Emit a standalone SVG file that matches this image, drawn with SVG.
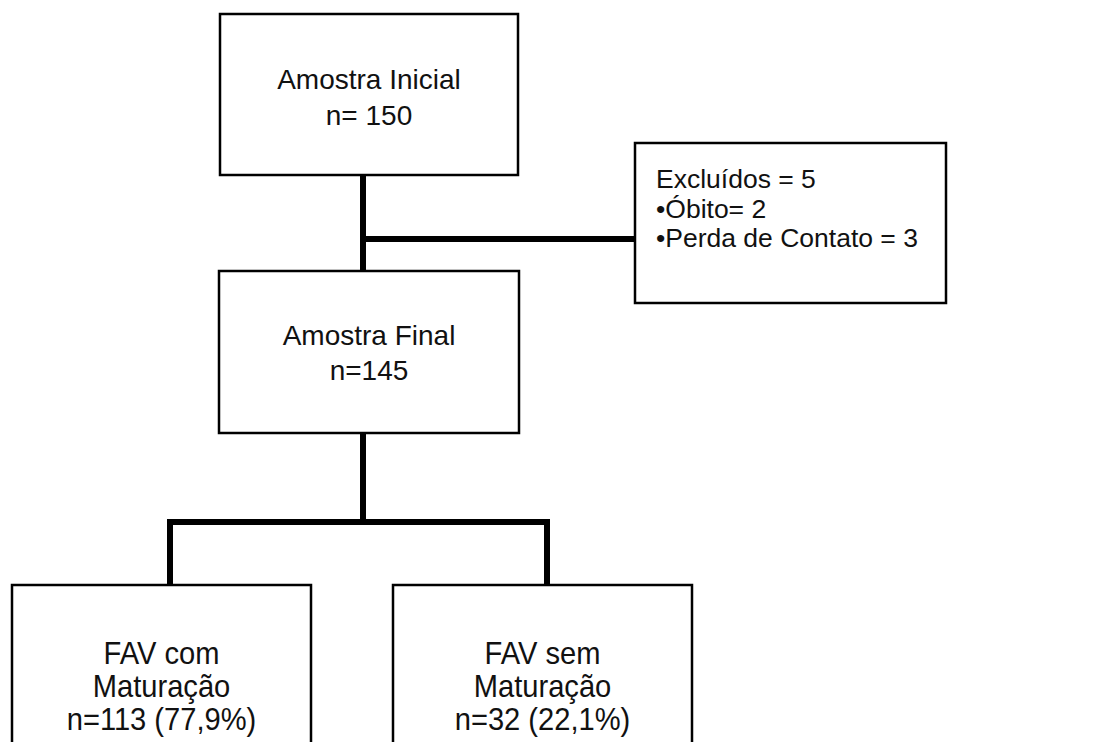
<svg xmlns="http://www.w3.org/2000/svg" width="1105" height="742" viewBox="0 0 1105 742">
<style>
.box{fill:#fff;stroke:#000;stroke-width:2.5}
.t{font-family:"Liberation Sans",Arial,sans-serif;font-size:28px;fill:#111;text-anchor:middle}
.ex{font-family:"Liberation Sans",Arial,sans-serif;font-size:26.5px;fill:#111}
.nb{font-family:"Liberation Sans",Arial,sans-serif;font-size:32px;fill:#111;text-anchor:middle}
.c{stroke:#000;stroke-width:6;fill:none}
</style>
<rect width="1105" height="742" fill="#fff"/>
<g id="connectors">
<line class="c" x1="363" y1="175" x2="363" y2="271"/>
<line class="c" x1="363" y1="239" x2="635" y2="239"/>
<line class="c" x1="363" y1="433" x2="363" y2="522"/>
<polyline class="c" points="170,585 170,522 547,522 547,585"/>
</g>
<g id="amostra-inicial">
<rect class="box" x="220" y="14" width="298" height="161"/>
<text class="t" x="369" y="89">Amostra Inicial</text>
<text class="t" x="369" y="125">n= 150</text>
</g>
<g id="excluidos">
<rect class="box" x="635" y="143" width="311" height="160"/>
<text class="ex" x="656" y="188">Excluídos = 5</text>
<text class="ex" x="656" y="218">•Óbito= 2</text>
<text class="ex" x="656" y="247">•Perda de Contato = 3</text>
</g>
<g id="amostra-final">
<rect class="box" x="219" y="271" width="300" height="162"/>
<text class="t" x="369" y="345">Amostra Final</text>
<text class="t" x="369" y="380">n=145</text>
</g>
<g id="fav-com">
<rect class="box" x="12" y="585" width="299" height="170"/>
<g transform="translate(161.5 0) scale(0.91 1)">
<text class="nb" x="0" y="664">FAV com</text>
<text class="nb" x="0" y="697">Maturação</text>
<text class="nb" x="0" y="730">n=113 (77,9%)</text>
</g>
</g>
<g id="fav-sem">
<rect class="box" x="393" y="585" width="299" height="170"/>
<g transform="translate(542.5 0) scale(0.91 1)">
<text class="nb" x="0" y="664">FAV sem</text>
<text class="nb" x="0" y="697">Maturação</text>
<text class="nb" x="0" y="730">n=32 (22,1%)</text>
</g>
</g>
</svg>
